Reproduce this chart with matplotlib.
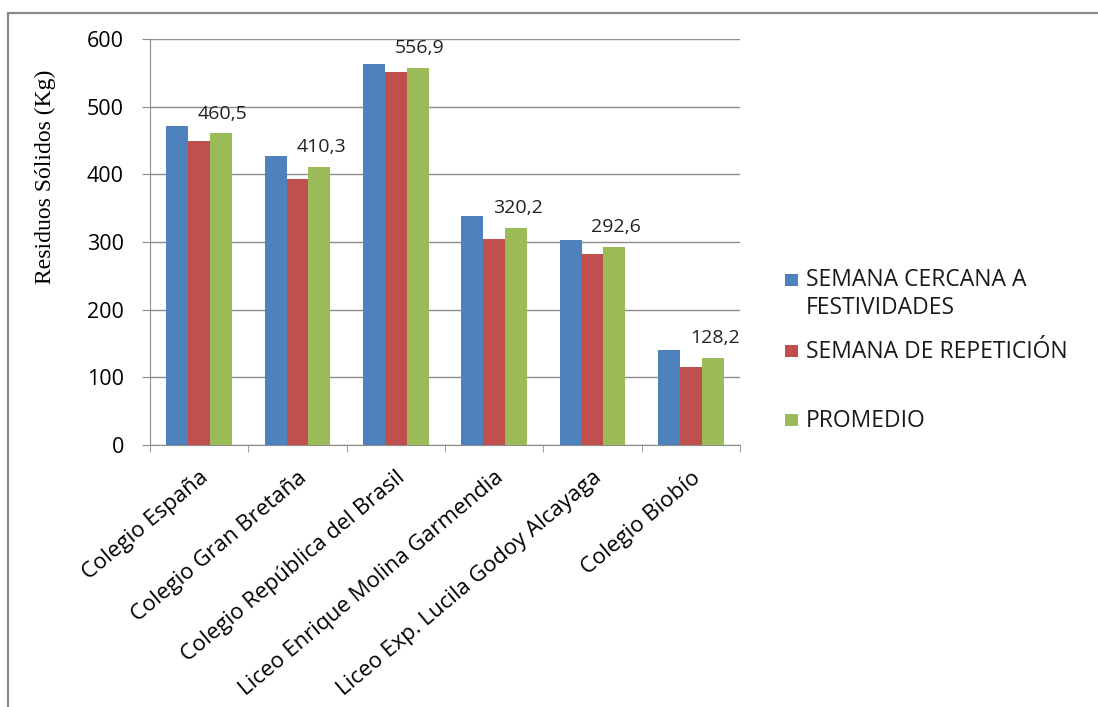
import matplotlib
matplotlib.use("Agg")
import matplotlib.pyplot as plt
import numpy as np
from matplotlib.patches import Rectangle

categories = ["Colegio España", "Colegio Gran Bretaña", "Colegio República del Brasil",
              "Liceo Enrique Molina Garmendia", "Liceo Exp. Lucila Godoy Alcayaga", "Colegio Biobío"]
festividades = [472, 427, 563, 338, 303, 140]
repeticion = [449, 393, 551, 304, 283, 115]
promedio = [460.5, 410.3, 556.9, 320.2, 292.6, 128.2]
promedio_labels = ["460,5", "410,3", "556,9", "320,2", "292,6", "128,2"]
series_names = [["SEMANA CERCANA A", "FESTIVIDADES"], ["SEMANA DE REPETICIÓN"], ["PROMEDIO"]]
colors = ["#4F81BD", "#C0504D", "#9BBB59"]
yticks = [0, 100, 200, 300, 400, 500, 600]

font = ["Open Sans", "DejaVu Sans"]
plt.rcParams['font.family'] = font

W, H = 1098, 707
fig = plt.figure(figsize=(W/100, H/100), dpi=100)


def fx(px):
    return px / W


def fy(py):
    return 1 - py / H


fig.patches.append(Rectangle((fx(8), -0.1), 1.2, fy(13) + 0.1, transform=fig.transFigure,
                             fill=False, edgecolor="#8a8a8a", linewidth=1.6))
ax = fig.add_axes([fx(150), fy(445), 590/W, 406/H])

x = np.arange(len(categories))
w = 0.222
series = [festividades, repeticion, promedio]
for i, (vals, c) in enumerate(zip(series, colors)):
    ax.bar(x + (i-1)*w, vals, w, color=c, zorder=3)

for xi, v, lab in zip(x, promedio, promedio_labels):
    ax.text(xi + w + 0.02, v + 22, lab, ha="center", va="baseline", fontsize=14, color="#222222")

ax.set_xlim(-0.5, len(categories)-0.5)
ax.set_ylim(0, 600)
ax.set_yticks(yticks)
ax.set_yticklabels([str(t) for t in yticks], fontsize=15.5)
ax.yaxis.grid(True, color="#8c8c8c", linewidth=1, zorder=0)
ax.set_axisbelow(True)
for s in ["top", "right"]:
    ax.spines[s].set_visible(False)
for s in ["left", "bottom"]:
    ax.spines[s].set_color("#8c8c8c")
ax.tick_params(axis="y", length=5.8, color="#8c8c8c", pad=13, direction="out")
ax.set_xticks(np.arange(len(categories)+1) - 0.5, minor=True)
ax.set_xticks(x)
ax.set_xticklabels(categories, rotation=40, ha="right", rotation_mode="anchor", fontsize=16)
ax.tick_params(axis="x", which="major", length=0, pad=16)
ax.tick_params(axis="x", which="minor", length=5, color="#8c8c8c")
ax.set_ylabel("Residuos Sólidos (Kg)", family=["Liberation Serif"], fontsize=17)
ax.yaxis.set_label_coords((45-150)/590, (445-177)/406)
ax.yaxis.label.set_verticalalignment("center")

# legend
baselines = [[286.5, 314.5], [357.5], [427]]
for names, c, bl in zip(series_names, colors, baselines):
    fig.patches.append(Rectangle((fx(785), fy(bl[0]-1)), 13/W, 12/H, transform=fig.transFigure,
                                 facecolor=c, edgecolor="none"))
    for line, b in zip(names, bl):
        fig.text(fx(806), fy(b), line, fontsize=16.5, va="baseline", ha="left", color="#1a1a1a")

fig.savefig("out.png", dpi=100)
